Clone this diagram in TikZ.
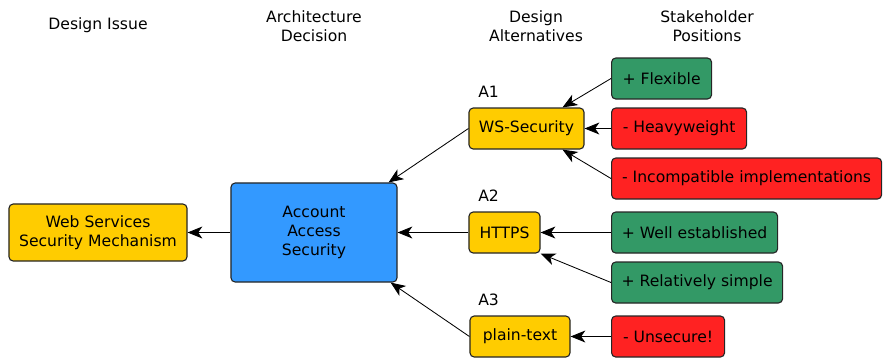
\documentclass[tikz,border=0pt]{standalone}
\usepackage{fontspec}
\setmainfont{DejaVu Sans}
\usetikzlibrary{arrows.meta}
\definecolor{altyellow}{HTML}{FFCC00}
\definecolor{decblue}{HTML}{3399FF}
\definecolor{progreen}{HTML}{339966}
\definecolor{conred}{HTML}{FF2222}
\begin{document}
\begin{tikzpicture}[x=0.025cm, y=-0.025cm,
    box/.style={draw=black!85, rounded corners=3pt, line width=0.8pt,
      minimum height=1.025cm, inner sep=0pt, align=center},
    alt/.style={box, fill=altyellow},
    pro/.style={box, fill=progreen},
    con/.style={box, fill=conred},
    arr/.style={-{Stealth[length=10.5pt,width=8.5pt,inset=3pt]}, line width=0.6pt},
    every node/.style={font=\fontsize{11.1}{13.8}\selectfont}]
  \useasboundingbox (0,0) rectangle (883,358);
  % column headings
  \node (h1) at (98,25) {Design Issue};
  \node[align=center] (h2) at (314,26) {Architecture\\Decision};
  \node[align=center] (h3) at (536,26) {Design\\Alternatives};
  \node[align=center] (h4) at (707,26) {Stakeholder\\Positions};
  % issue and decision
  \node[alt, minimum width=4.45cm, minimum height=1.425cm] (issue) at (98,232.5)
    {Web Services\\Security Mechanism};
  \node[box, fill=decblue, minimum width=4.15cm, minimum height=2.475cm] (acc) at (314,232.5)
    {Account\\Access\\Security};
  \draw[arr] (acc) -- (issue);
  % the three alternatives
  \foreach \n/\x/\y/\w/\t/\a in {ws/526.5/128.5/2.875/WS-Security/A1,
      https/504.5/232.5/1.775/HTTPS/A2, plain/520/336.5/2.5/plain-text/A3}{
    \node[alt, minimum width=\w cm] (\n) at (\x,\y) {\t};
    \node[anchor=south west, inner sep=0pt] (lab\n) at (478,\y-31) {\a};
  }
  \draw[arr] (ws.west) -- ([xshift=-0.225cm]acc.north east);
  \draw[arr] (https) -- (acc);
  \draw[arr] (plain.west) -- ([xshift=-0.175cm]acc.south east);
  % stakeholder positions
  \foreach \n/\y/\w/\s/\t in {flex/78.5/2.5/pro/+ Flexible,
      heavy/128.5/3.375/con/- Heavyweight,
      incomp/178.5/6.75/con/- Incompatible implementations,
      well/232.5/4.15/pro/+ Well established,
      simple/282.5/4.275/pro/+ Relatively simple,
      unsec/336.5/2.825/con/- Unsecure!}{
    \node[\s, minimum width=\w cm, anchor=west] (\n) at (611,\y) {\t};
  }
  \draw[arr] (flex.west) -- ([xshift=0.9cm]ws.north);
  \draw[arr] (heavy) -- (ws);
  \draw[arr] (incomp.west) -- ([xshift=0.9cm]ws.south);
  \draw[arr] (well) -- (https);
  \draw[arr] (simple.west) -- (https.south east);
  \draw[arr] (unsec) -- (plain);
\end{tikzpicture}
\end{document}
